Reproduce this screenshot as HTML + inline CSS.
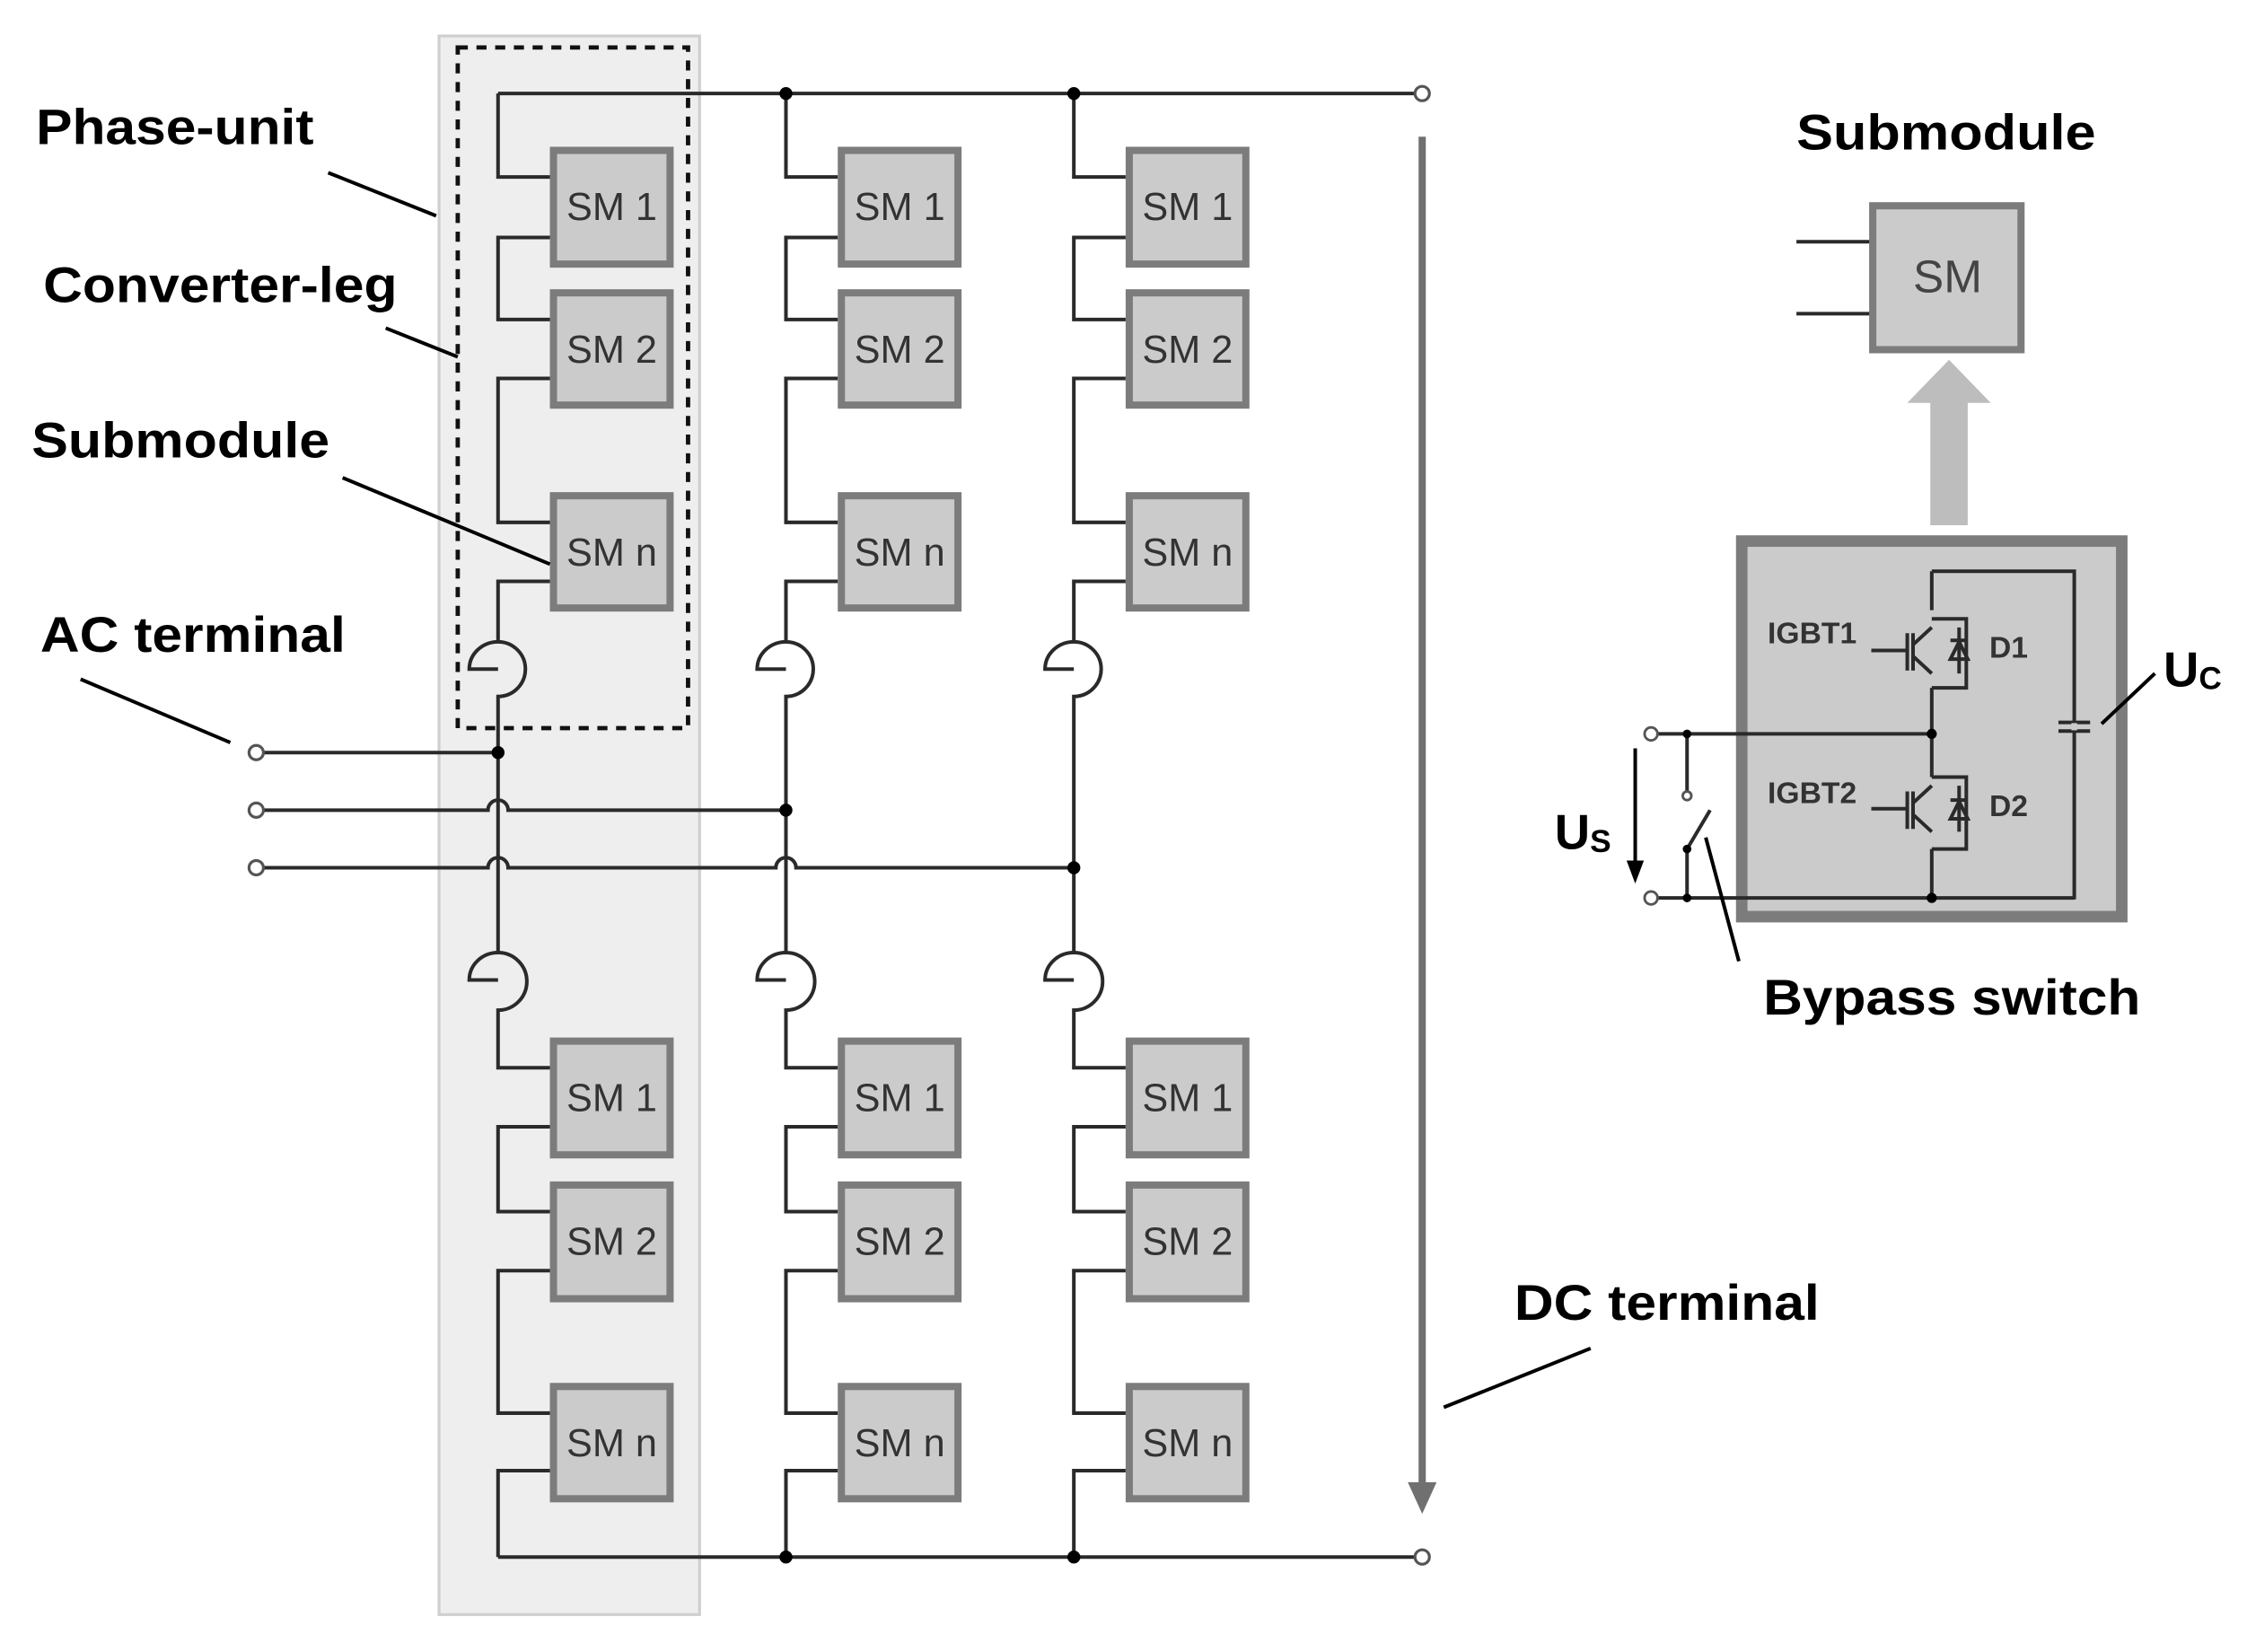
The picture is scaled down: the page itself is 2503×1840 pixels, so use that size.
<!DOCTYPE html>
<html><head><meta charset="utf-8"><style>
html,body{margin:0;padding:0;background:#fff;}
svg{display:block;}
text{font-family:"Liberation Sans",Arial,sans-serif;}
.b{font-weight:bold;fill:#000;font-size:35px;}
.sm{font-size:27px;fill:#333;}
.w{fill:none;stroke:#2a2a2a;stroke-width:2.5;}
.box{fill:#cbcbcb;stroke:#7c7c7c;stroke-width:5;}
</style></head><body>
<svg width="2503" height="1840" viewBox="0 0 1561 1148" preserveAspectRatio="none" xmlns="http://www.w3.org/2000/svg">
<defs>
<g id="col">
 <path class="w" d="M346,65 V123 H382 M382,165 H346 V222 H382 M382,263 H346 V363 H382 M382,404 H346 V446 M346,446 A20,19 0 0 0 326,465 L346,465 M346,446 A19,19 0 0 1 346,484 V662 M346,662 A20,19 0 0 0 326,681 L346,681 M346,662 A19,19 0 0 1 346,702 V742 H382 M382,783 H346 V842 H382 M382,883 H346 V982 H382 M382,1022 H346 V1082"/>
 <rect class="box" x="384.5" y="104.5" width="81" height="79"/>
 <rect class="box" x="384.5" y="203.5" width="81" height="78"/>
 <rect class="box" x="384.5" y="344.5" width="81" height="78"/>
 <rect class="box" x="384.5" y="723.5" width="81" height="79"/>
 <rect class="box" x="384.5" y="823.5" width="81" height="79"/>
 <rect class="box" x="384.5" y="963.5" width="81" height="78"/>
 <text class="sm" x="425" y="153" text-anchor="middle">SM 1</text>
 <text class="sm" x="425" y="252" text-anchor="middle">SM 2</text>
 <text class="sm" x="425" y="393" text-anchor="middle">SM n</text>
 <text class="sm" x="425" y="772" text-anchor="middle">SM 1</text>
 <text class="sm" x="425" y="872" text-anchor="middle">SM 2</text>
 <text class="sm" x="425" y="1012" text-anchor="middle">SM n</text>
</g>
</defs>
<rect x="305" y="25" width="181" height="1097" fill="#eeeeee" stroke="#cfcfcf" stroke-width="2"/>
<rect x="318" y="33" width="160" height="473" fill="none" stroke="#111" stroke-width="3" stroke-dasharray="7,6"/>
<use href="#col"/>
<use href="#col" transform="translate(200,0)"/>
<use href="#col" transform="translate(400,0)"/>
<path class="w" d="M346,65 H983 M346,1082 H983"/>
<path class="w" d="M183,523 H346 M183,563 H339 A7,7 0 0 1 353,563 H546 M183,603 H339 A7,7 0 0 1 353,603 H539 A7,7 0 0 1 553,603 H746"/>
<g fill="#000">
<circle cx="546" cy="65" r="4.5"/><circle cx="746" cy="65" r="4.5"/>
<circle cx="546" cy="1082" r="4.5"/><circle cx="746" cy="1082" r="4.5"/>
<circle cx="346" cy="523" r="4.5"/><circle cx="546" cy="563" r="4.5"/><circle cx="746" cy="603" r="4.5"/>
</g>
<g fill="#fff" stroke="#555" stroke-width="2">
<circle cx="988" cy="65" r="5"/><circle cx="988" cy="1082" r="5"/>
<circle cx="178" cy="523" r="5"/><circle cx="178" cy="563" r="5"/><circle cx="178" cy="603" r="5"/>
</g>
<line x1="988" y1="95" x2="988" y2="1035" stroke="#707070" stroke-width="5"/>
<polygon points="978,1030 998,1030 988,1052" fill="#707070"/>
<g stroke="#000" stroke-width="2.5">
<line x1="228" y1="120" x2="303" y2="150"/>
<line x1="268" y1="228" x2="318" y2="248"/>
<line x1="238" y1="332" x2="382" y2="392"/>
<line x1="56" y1="472" x2="160" y2="516"/>
<line x1="1003" y1="978" x2="1105" y2="937"/>
</g>
<text class="b" x="25" y="100" textLength="193" lengthAdjust="spacingAndGlyphs">Phase-unit</text>
<text class="b" x="30" y="210" textLength="246" lengthAdjust="spacingAndGlyphs">Converter-leg</text>
<text class="b" x="22" y="318" textLength="207" lengthAdjust="spacingAndGlyphs">Submodule</text>
<text class="b" x="28" y="453" textLength="212" lengthAdjust="spacingAndGlyphs">AC terminal</text>
<text class="b" x="1052" y="917" textLength="212" lengthAdjust="spacingAndGlyphs">DC terminal</text>
<text class="b" x="1248" y="104" textLength="208" lengthAdjust="spacingAndGlyphs">Submodule</text>
<path class="w" d="M1248,168 H1300 M1248,218 H1300"/>
<rect x="1301" y="143" width="103" height="100" fill="#cbcbcb" stroke="#7c7c7c" stroke-width="5"/>
<text x="1353" y="203" font-size="32" fill="#444" text-anchor="middle">SM</text>
<polygon points="1341,365 1367,365 1367,280 1383,280 1354,250 1325,280 1341,280" fill="#bdbdbd"/>
<rect x="1210" y="376" width="264" height="261" fill="#cbcbcb" stroke="#7c7c7c" stroke-width="8"/>
<g class="w" stroke-width="2">
<path d="M1342,397 H1441 V625 M1342,397 V424 M1342,478 V540 M1342,590 V625 M1145,510 H1342 M1145,624 H1441 M1430,502 H1452 M1430,508 H1452"/>
<path d="M1342,430 H1366 V478 H1342 M1300,452 H1325 M1325,440 V466 M1329,440 V466 M1329,448 L1342,436 M1329,456 L1342,468"/>
<path d="M1342,540 H1366 V590 H1342 M1300,562 H1325 M1325,550 V576 M1329,550 V576 M1329,558 L1342,546 M1329,566 L1342,578"/>
<path d="M1355,445 H1367 M1355,458 L1361,446 L1367,458 Z M1361,436 V468"/>
<path d="M1355,556 H1367 M1355,569 L1361,557 L1367,569 Z M1361,546 V578"/>
<path d="M1172,510 V551 M1172,590 V624 M1172,590 L1188,563"/>
</g>
<line x1="1441" y1="502.5" x2="1441" y2="507.5" stroke="#cbcbcb" stroke-width="4"/>
<g fill="#000"><circle cx="1342" cy="510" r="3.5"/><circle cx="1342" cy="624" r="3.5"/><circle cx="1172" cy="510" r="3"/><circle cx="1172" cy="624" r="3"/><circle cx="1172" cy="590" r="3"/></g>
<g fill="#fff" stroke="#555" stroke-width="1.8"><circle cx="1147" cy="510" r="4.5"/><circle cx="1147" cy="624" r="4.5"/><circle cx="1172" cy="553" r="3"/></g>
<text x="1228" y="447" font-size="21" font-weight="bold" fill="#333">IGBT1</text>
<text x="1228" y="558" font-size="21" font-weight="bold" fill="#333">IGBT2</text>
<text x="1382" y="457" font-size="21" font-weight="bold" fill="#333">D1</text>
<text x="1382" y="567" font-size="21" font-weight="bold" fill="#333">D2</text>
<line x1="1136" y1="520" x2="1136" y2="600" stroke="#000" stroke-width="2.5"/>
<polygon points="1130,598 1142,598 1136,614" fill="#000"/>
<text x="1080" y="590" font-size="34" font-weight="bold">U<tspan font-size="22" dy="2">S</tspan></text>
<line x1="1460" y1="503" x2="1497" y2="468" stroke="#000" stroke-width="2.5"/>
<text x="1503" y="477" font-size="34" font-weight="bold">U<tspan font-size="22" dy="2">C</tspan></text>
<line x1="1185" y1="582" x2="1208" y2="668" stroke="#000" stroke-width="2.5"/>
<text class="b" x="1225" y="705" textLength="262" lengthAdjust="spacingAndGlyphs">Bypass switch</text>
</svg>
</body></html>
